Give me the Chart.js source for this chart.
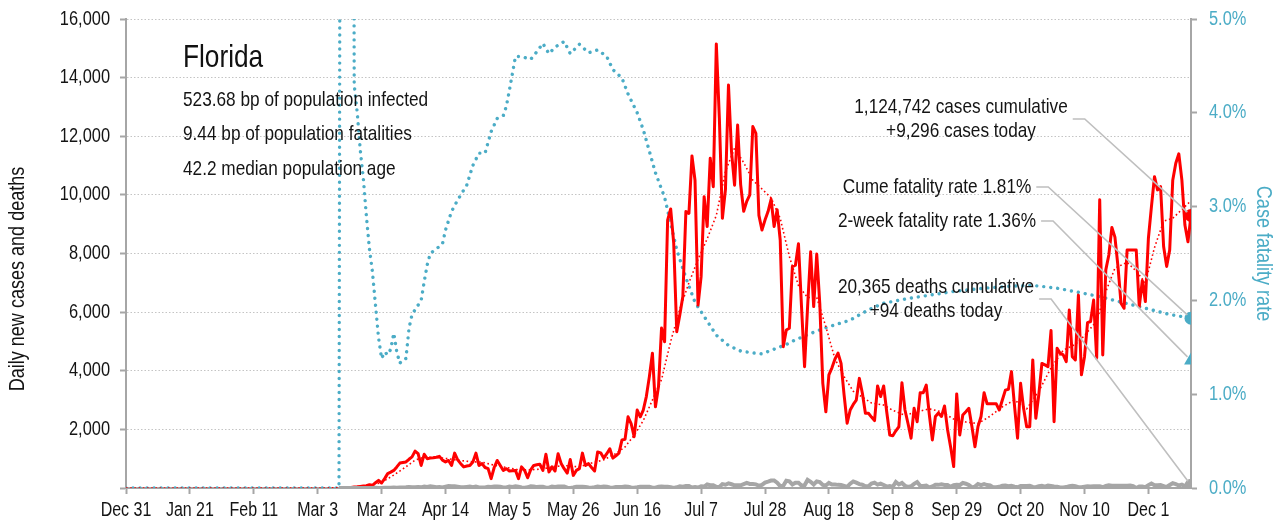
<!DOCTYPE html>
<html>
<head>
<meta charset="utf-8">
<script src="https://cdn.jsdelivr.net/npm/chart.js@4.4.1/dist/chart.umd.min.js"></script>
<style>
  html, body { margin: 0; padding: 0; background: #fff; }
  #wrap { width: 1281px; height: 529px; position: relative; }
</style>
</head>
<body>
<div id="wrap"><canvas id="graph"></canvas></div>
<script>
// day 0 = Dec 31 2019, one step per day
const tickLabels = ['Dec 31','Jan 21','Feb 11','Mar 3','Mar 24','Apr 14','May 5','May 26','Jun 16','Jul 7','Jul 28','Aug 18','Sep 8','Sep 29','Oct 20','Nov 10','Dec 1'];
const tickEvery = 21;
const lastDay = 350;

// daily new cases, from day 70 (Mar 10) to day 350 (Dec 15)
const caseStart = 70;
const casesDaily = [
  5,10,17,18,19,38,40,56,70,80,110,91,180,260,170,320,490,540,600,720,850,870,
  890,980,1060,1260,1170,770,1150,1000,1020,1030,1050,1080,950,890,940,770,1190,960,830,720,750,770,890,1190,770,830,700,660,320,700,
  940,770,600,660,580,590,600,320,720,600,350,620,770,790,810,600,1150,550,720,580,1170,840,660,510,970,430,600,660,1190,770,830,
  700,580,1230,1200,1020,1170,1340,1020,1100,1190,1640,1660,2430,2200,1750,2660,2430,2660,3120,3800,4600,2770,3460,5460,4990,9140,9520,8350,5330,5900,
  6530,9430,9370,11330,10500,6240,7210,9940,8920,11250,10280,15150,12620,9200,10180,13750,11470,10330,12380,10350,9440,9780,10000,12330,12100,9300,8800,9140,9430,9850,8920,
  9490,8460,4820,5390,5450,7550,7600,8330,6190,4140,6190,8060,6190,7980,6300,3570,2600,3860,4100,4400,4600,4250,3170,2210,2660,2850,3000,3740,3230,2550,2550,
  2420,2300,3480,3120,3480,2600,1810,1780,1950,2090,3590,2660,2200,1700,2720,2260,3250,3250,3510,2500,1640,2440,2560,2440,2800,1990,1400,730,3210,1810,
  2490,2600,2720,2100,1410,2100,2440,3250,2870,2870,2870,2870,2660,3000,3340,3370,3970,2800,1700,3570,2700,2090,2090,4370,2380,3200,4250,4200,4140,5370,2260,
  4770,4600,4540,4310,6070,4480,4370,6580,3860,4480,5640,5680,6410,4430,9830,4540,7440,7950,8890,8560,7560,6300,6130,8120,8120,8120,8120,6190,7080,6360,
  8520,9600,10620,10170,10280,8240,7560,8120,10500,11080,11400,10510,8970,8400,9296
];

// daily deaths, same days as casesDaily
const deathsDaily = [
  0,0,0,0,0,1,1,1,2,1,3,2,5,3,4,7,9,7,14,10,21,21,
  24,35,28,26,32,23,51,37,59,46,26,33,21,47,65,59,58,45,29,25,36,47,27,48,20,19,20,45,37,50,
  47,41,21,19,48,37,55,47,19,12,22,59,52,31,44,45,11,10,46,35,48,51,53,12,4,17,43,44,46,38,17,
  8,26,51,35,48,44,16,8,37,36,36,48,41,18,9,25,44,43,40,43,11,8,40,47,43,43,24,0,24,59,
  45,66,66,18,37,18,62,48,120,93,95,45,35,132,112,156,128,90,90,92,134,173,140,135,124,77,108,186,216,253,257,
  179,62,73,245,225,120,180,182,77,91,276,212,119,225,204,107,87,174,119,119,107,106,72,39,149,225,183,131,114,62,60,
  151,182,116,151,103,47,63,42,205,120,171,74,35,58,140,202,74,68,83,20,51,107,107,123,104,106,40,93,112,99,
  175,145,101,21,47,135,98,133,100,89,23,24,41,77,86,58,75,45,23,68,67,65,76,38,27,59,79,48,82,70,53,
  42,18,21,32,65,79,61,29,24,40,58,54,61,59,57,25,69,89,80,79,79,80,81,78,83,60,0,51,49,28,
  99,155,97,94,103,67,33,103,163,131,85,113,67,33,94
];

// 7-day average of cases
const avgDays  = [0,63,70,77,80,84,88,91,95,98,101,105,109,113,117,121,125,129,133,137,141,145,149,153,157,161,164,167,170,173,176,179,182,185,188,191,194,197,200,203,206,209,212,215,218,221,224,227,230,233,236,239,242,245,249,252,256,260,264,268,272,276,280,284,288,292,296,300,304,308,312,315,319,322,325,329,332,335,338,341,344,347,350];
const avgCases = [0,0,5,30,70,190,440,650,950,1050,1050,1010,950,900,880,780,700,620,620,650,740,760,720,850,960,1180,1400,1800,2300,3000,3700,5000,6100,7000,7800,8500,9300,10800,11600,11100,10500,10200,9900,9200,7900,6900,6500,6500,5500,4400,3800,3300,3100,2900,2830,2650,2480,2600,2700,2600,2350,2250,2200,2450,2770,3000,2700,3300,4100,4700,4900,5200,5700,6700,7500,7700,7400,7000,8200,9100,9200,9500,9800];

// case fatality rate, %
const cfrDays = [0,70,71,74,75,76,77,78,79,80,81,82,83,84,85,86,87,88,89,90,91,92,93,94,95,96,97,98,99,100,102,104,105,107,109,112,114,116,118,120,122,124,125,126,128,130,133,135,137,139,141,144,146,149,152,155,158,160,163,165,168,170,172,174,177,179,181,184,187,190,194,198,202,206,209,213,217,220,226,231,238,244,249,257,265,273,282,290,298,306,314,320,326,331,337,343,350];
const cfrPct  = [0,0,20,20,4.3,4.0,3.6,3.3,2.9,2.55,2.3,1.95,1.6,1.38,1.45,1.42,1.48,1.65,1.45,1.33,1.37,1.38,1.7,1.85,1.9,1.95,2.0,2.2,2.38,2.5,2.55,2.6,2.75,2.95,3.07,3.23,3.44,3.57,3.57,3.8,3.94,3.97,4.07,4.24,4.6,4.6,4.57,4.65,4.74,4.63,4.7,4.76,4.63,4.73,4.64,4.67,4.6,4.46,4.37,4.2,4.0,3.82,3.59,3.36,3.1,2.82,2.54,2.24,1.98,1.83,1.63,1.52,1.46,1.44,1.43,1.48,1.53,1.58,1.66,1.72,1.79,1.9,1.97,2.02,2.06,2.1,2.13,2.15,2.16,2.13,2.08,2.04,1.99,1.95,1.9,1.85,1.81];

const twoWeekCfr = 1.36;
const cumeCfr = 1.81;
const cumCases = '1,124,742';
const todayCases = '+9,296';
const cumDeaths = '20,365';
const todayDeaths = '+94';
const stateName = 'Florida';
const infoLines = ['523.68 bp of population infected','9.44 bp of population fatalities','42.2 median population age'];

const RED = '#ff0000';
const TEAL = '#4bacc6';
const GREY = '#a6a6a6';
const INK = '#141414';
const FONT = "'Liberation Sans', Arial, sans-serif";
const NARROW = 0.82;   // squeeze a regular face into a condensed look

function pts(days, vals){ return vals.map((v,i)=>({x: days[i], y: v})); }
function run(start, vals){ return vals.map((v,i)=>({x: start+i, y: v})); }

// condensed text helper
function say(ctx, t, x, y, size, align, color, rot){
  ctx.save();
  ctx.translate(x, y);
  if (rot) ctx.rotate(rot);
  ctx.scale(NARROW, 1);
  ctx.font = size + 'px ' + FONT;
  ctx.fillStyle = color;
  ctx.textAlign = align;
  ctx.textBaseline = 'middle';
  ctx.fillText(t, 0, 0);
  const w = ctx.measureText(t).width * NARROW;
  ctx.restore();
  return w;
}

const textPlugin = {
  id: 'texts',
  afterDatasetsDraw(chart){
    const ctx = chart.ctx;
    const xs = chart.scales.x, yl = chart.scales.y, yr = chart.scales.y2;
    const area = chart.chartArea;
    const px = xs.getPixelForValue(lastDay);

    // tick labels
    xs.ticks.forEach((t,i)=> say(ctx, tickLabels[i], xs.getPixelForValue(t.value), 511, 19.5, 'center', INK));
    yl.ticks.forEach(t=>{ if (t.value) say(ctx, t.value.toLocaleString('en-US'), 110, yl.getPixelForValue(t.value), 20, 'right', INK); });
    yr.ticks.forEach(t=> say(ctx, t.value.toFixed(1) + '%', 1209, yr.getPixelForValue(t.value), 20, 'left', TEAL));

    // axis titles
    say(ctx, 'Daily new cases and deaths', 18, 279, 22, 'center', INK, -Math.PI/2);
    say(ctx, 'Case fatality rate', 1263, (area.top + area.bottom)/2, 22, 'center', TEAL, Math.PI/2);

    // state block
    say(ctx, stateName, 183, 58, 32, 'left', '#111');
    infoLines.forEach((t,i)=> say(ctx, t, 183, 100 + i*34.5, 21, 'left', INK));

    // callouts with leader lines to end markers
    const notes = [
      {lines: [cumCases + ' cases cumulative', todayCases + ' cases today'], cx: 961, cy: 107, ty: yl.getPixelForValue(casesDaily[casesDaily.length-1])},
      {lines: ['Cume fatality rate ' + cumeCfr.toFixed(2) + '%'], cx: 937, cy: 187, ty: yr.getPixelForValue(cumeCfr)},
      {lines: ['2-week fatality rate ' + twoWeekCfr.toFixed(2) + '%'], cx: 937, cy: 221, ty: yr.getPixelForValue(twoWeekCfr)},
      {lines: [cumDeaths + ' deaths cumulative', todayDeaths + ' deaths today'], cx: 936, cy: 287, ty: yl.getPixelForValue(deathsDaily[deathsDaily.length-1])}
    ];
    notes.forEach(n=>{
      let w = 0;
      n.lines.forEach((t,i)=>{ w = Math.max(w, say(ctx, t, n.cx, n.cy + i*24, 21, 'center', INK)); });
      const sx = n.cx + w/2 + 5;
      const sy = n.cy + (n.lines.length-1)*12;
      const dx = px - (sx + 12), dy = n.ty - sy;
      const len = Math.sqrt(dx*dx + dy*dy);
      ctx.save();
      ctx.strokeStyle = '#bfbfbf';
      ctx.lineWidth = 1.6;
      ctx.beginPath();
      ctx.moveTo(sx, sy);
      ctx.lineTo(sx + 12, sy);
      ctx.lineTo(px - dx/len*5, n.ty - dy/len*5);
      ctx.stroke();
      ctx.restore();
    });
  }
};

const endPoint = (v)=>[{x: lastDay, y: v}];

new Chart(document.getElementById('graph'), {
  type: 'line',
  data: {
    datasets: [
      {data: endPoint(casesDaily[casesDaily.length-1]), showLine: false, pointRadius: 6.5, pointBackgroundColor: RED, pointBorderWidth: 0, yAxisID: 'y'},
      {data: endPoint(cumeCfr), showLine: false, pointRadius: 6.5, pointBackgroundColor: TEAL, pointBorderWidth: 0, yAxisID: 'y2'},
      {data: endPoint(twoWeekCfr), showLine: false, pointStyle: 'triangle', pointRadius: 8, pointBackgroundColor: TEAL, pointBorderWidth: 0, yAxisID: 'y2'},
      {data: endPoint(deathsDaily[deathsDaily.length-1]), showLine: false, pointRadius: 6.5, pointBackgroundColor: GREY, pointBorderWidth: 0, yAxisID: 'y'},
      {label: 'deaths', data: run(caseStart, deathsDaily), borderColor: GREY, borderWidth: 4, pointRadius: 0, yAxisID: 'y'},
      {label: 'cases', data: run(caseStart, casesDaily), borderColor: RED, borderWidth: 3, pointRadius: 0, borderJoinStyle: 'round', yAxisID: 'y'},
      {label: 'cases 7d', data: pts(avgDays, avgCases), borderColor: RED, borderWidth: 1.6, borderDash: [1.6, 2.6], pointRadius: 0, yAxisID: 'y'},
      {label: 'cfr', data: pts(cfrDays, cfrPct), borderColor: TEAL, borderWidth: 3.4, borderDash: [0.01, 7], borderCapStyle: 'round', pointRadius: 0, yAxisID: 'y2'}
    ]
  },
  options: {
    responsive: true,
    maintainAspectRatio: false,
    animation: false,
    layout: {padding: {top: 19, left: 0, right: 0, bottom: 0}},
    plugins: {legend: {display: false}, tooltip: {enabled: false}},
    scales: {
      x: {
        type: 'linear', min: 0, max: lastDay,
        afterBuildTicks: (s)=>{ s.ticks = tickLabels.map((l,i)=>({value: i*tickEvery})); },
        afterFit: (s)=>{ s.height = 41; },
        ticks: {display: false, autoSkip: false},
        grid: {drawOnChartArea: false, drawTicks: true, tickLength: 6, tickColor: GREY, tickWidth: 2},
        border: {color: GREY, width: 2}
      },
      y: {
        position: 'left', min: 0, max: 16000,
        afterFit: (s)=>{ s.width = 126; },
        ticks: {display: false, stepSize: 2000},
        grid: {color: '#c4c4c4', lineWidth: 1, tickLength: 6, tickColor: GREY, tickWidth: 2, tickBorderDash: []},
        border: {color: GREY, width: 2, dash: [1.5, 2]}
      },
      y2: {
        position: 'right', min: 0, max: 5,
        afterFit: (s)=>{ s.width = 90; },
        ticks: {display: false, stepSize: 1},
        grid: {drawOnChartArea: false, tickLength: 6, tickColor: GREY, tickWidth: 2},
        border: {color: GREY, width: 2}
      }
    }
  },
  plugins: [textPlugin]
});
</script>
</body>
</html>
